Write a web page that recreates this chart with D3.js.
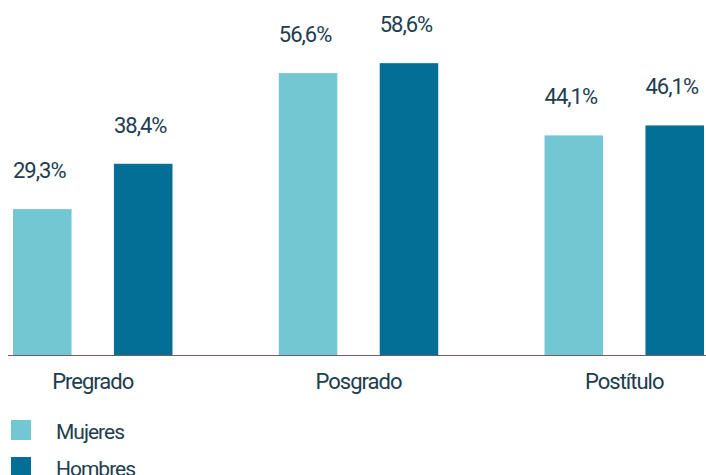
<!DOCTYPE html>
<html>
<head>
<meta charset="utf-8">
<script src="https://cdn.jsdelivr.net/npm/d3@7"></script>
<style>
  html, body { margin: 0; padding: 0; background: #fff; }
  svg { display: block; }
  text { font-family: Roboto, 'Noto Sans', sans-serif; fill: #213c4e; letter-spacing: -1px; }
</style>
</head>
<body>
<svg id="chart" width="706" height="475"></svg>
<script>
  var categories = ['Pregrado', 'Posgrado', 'Postítulo'],
      series = ['Mujeres', 'Hombres'],
      mujeres = [29.3, 56.6, 44.1],
      hombres = [38.4, 58.6, 46.1],
      colors = ['#72c7d3', '#036f96'];

  var values = [mujeres, hombres],
      fmt = function(v) { return d3.format('.1f')(v).replace('.', ',') + '%'; };

  var svg = d3.select('#chart'),
      baseline = 355;

  var x0 = d3.scaleBand()
        .domain(categories)
        .range([13, 704])
        .paddingInner(0.4)
        .paddingOuter(0),

      x1 = d3.scaleBand()
        .domain(series)
        .range([0, x0.bandwidth()])
        .paddingInner(0.42)
        .paddingOuter(0),

      y = d3.scaleLinear()
        .domain([0, 60])
        .range([baseline, baseline - 298.8]);

  var rows = [];
  categories.forEach(function(c, i) {
    series.forEach(function(s, j) {
      rows.push({ cat: c, ser: s, idx: j, value: values[j][i] });
    });
  });

  var groups = svg.append('g');

  groups.selectAll('rect')
    .data(rows)
    .enter().append('rect')
      .attr('x', function(d) { return x0(d.cat) + x1(d.ser); })
      .attr('y', function(d) { return y(d.value); })
      .attr('width', x1.bandwidth())
      .attr('height', function(d) { return y(0) - y(d.value); })
      .attr('fill', function(d) { return colors[d.idx]; });

  groups.selectAll('text.val')
    .data(rows)
    .enter().append('text')
      .attr('class', 'val')
      .attr('x', function(d) { return x0(d.cat) + x1(d.ser); })
      .attr('y', function(d) { return y(d.value) - 31; })
      .attr('font-size', '22px')
      .text(function(d) { return fmt(d.value); });

  // baseline
  svg.append('line')
    .attr('x1', 8)
    .attr('x2', 706)
    .attr('y1', baseline + 0.5)
    .attr('y2', baseline + 0.5)
    .attr('stroke', '#7a5a62')
    .attr('stroke-width', 1);

  // category labels
  svg.append('g').selectAll('text')
    .data(categories)
    .enter().append('text')
      .attr('x', function(d) { return x0(d) + x0.bandwidth() / 2; })
      .attr('y', 389)
      .attr('text-anchor', 'middle')
      .attr('font-size', '22px')
      .text(function(d) { return d; });

  // legend
  var legend = svg.append('g').selectAll('g')
    .data(series)
    .enter().append('g')
      .attr('transform', function(d, i) { return 'translate(11,' + (420 + i * 37) + ')'; });

  legend.append('rect')
    .attr('width', 20)
    .attr('height', 20)
    .attr('fill', function(d, i) { return colors[i]; });

  legend.append('text')
    .attr('x', 45)
    .attr('y', 19)
    .attr('font-size', '21px')
    .text(function(d) { return d; });
</script>
</body>
</html>
